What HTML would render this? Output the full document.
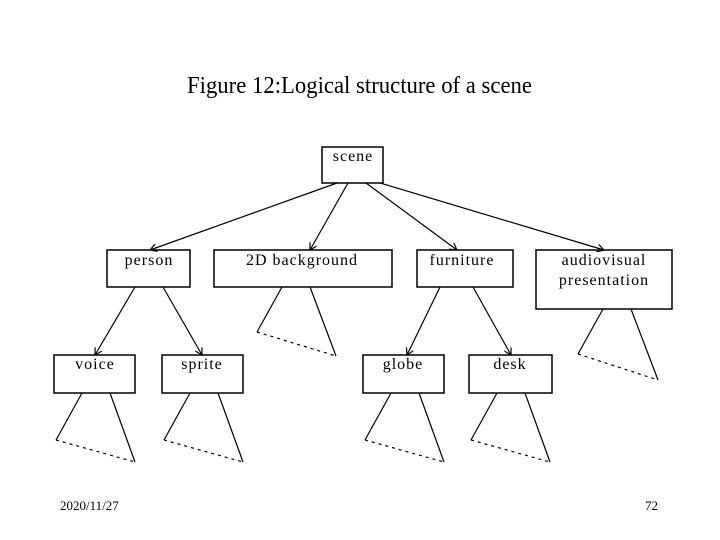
<!DOCTYPE html>
<html><head><meta charset="utf-8"><style>
html,body{margin:0;padding:0;background:#fff;width:720px;height:540px;overflow:hidden}
svg{display:block}
text{font-family:"Liberation Serif",serif;fill:#000}
</style></head><body>
<svg width="720" height="540" viewBox="0 0 720 540" xmlns="http://www.w3.org/2000/svg">
<defs><marker id="a" markerWidth="8" markerHeight="8" refX="7" refY="4" orient="auto" markerUnits="userSpaceOnUse"><path d="M0,0 L7,4 L0,8" fill="none" stroke="#000" stroke-width="1.2"/></marker></defs>
<text x="187" y="93" font-size="24" textLength="345" lengthAdjust="spacingAndGlyphs">Figure 12:Logical structure of a scene</text>
<g fill="none" stroke="#000" stroke-width="1.5">
<rect x="322" y="147" width="61" height="36"/>
<rect x="107" y="250" width="83" height="37"/>
<rect x="214" y="250" width="178" height="37"/>
<rect x="417" y="250" width="96" height="37"/>
<rect x="536" y="250" width="136" height="59"/>
<rect x="54" y="355" width="81" height="38"/>
<rect x="162" y="355" width="81" height="38"/>
<rect x="363" y="355" width="81" height="38"/>
<rect x="469" y="355" width="83" height="38"/>
</g>
<g stroke="#000" stroke-width="1.2" fill="none">
<line x1="337" y1="183" x2="150" y2="250" marker-end="url(#a)"/>
<line x1="348" y1="183" x2="310" y2="250" marker-end="url(#a)"/>
<line x1="366" y1="183" x2="457" y2="250" marker-end="url(#a)"/>
<line x1="380" y1="183" x2="604" y2="250" marker-end="url(#a)"/>
<line x1="135" y1="287" x2="95" y2="355" marker-end="url(#a)"/>
<line x1="163" y1="287" x2="202" y2="355" marker-end="url(#a)"/>
<line x1="440" y1="287" x2="407" y2="355" marker-end="url(#a)"/>
<line x1="473" y1="287" x2="511" y2="355" marker-end="url(#a)"/>
<line x1="282" y1="287" x2="257" y2="332"/><line x1="310" y1="287" x2="336" y2="356"/>
<line x1="257" y1="332" x2="336" y2="356" stroke-dasharray="3,4"/>
<line x1="603" y1="309" x2="578" y2="354"/><line x1="631" y1="309" x2="658" y2="380"/>
<line x1="578" y1="354" x2="658" y2="380" stroke-dasharray="3,4"/>
<g id="t"><line x1="82" y1="393" x2="56" y2="440"/><line x1="110" y1="393" x2="135" y2="462"/><line x1="56" y1="440" x2="135" y2="462" stroke-dasharray="3,4"/></g>
<use href="#t" x="108"/><use href="#t" x="309"/><use href="#t" x="415"/>
</g>
<g font-size="16" text-anchor="middle" letter-spacing="1">
<text x="353" y="161">scene</text>
<text x="149" y="265">person</text>
<text x="302" y="265">2D background</text>
<text x="462" y="265">furniture</text>
<text x="604" y="265">audiovisual</text>
<text x="604" y="285">presentation</text>
<text x="95" y="369">voice</text>
<text x="202" y="369">sprite</text>
<text x="403" y="369">globe</text>
<text x="510" y="369">desk</text>
</g>
<text x="60" y="510" font-size="13">2020/11/27</text>
<text x="645" y="510" font-size="13">72</text>
</svg>
</body></html>
